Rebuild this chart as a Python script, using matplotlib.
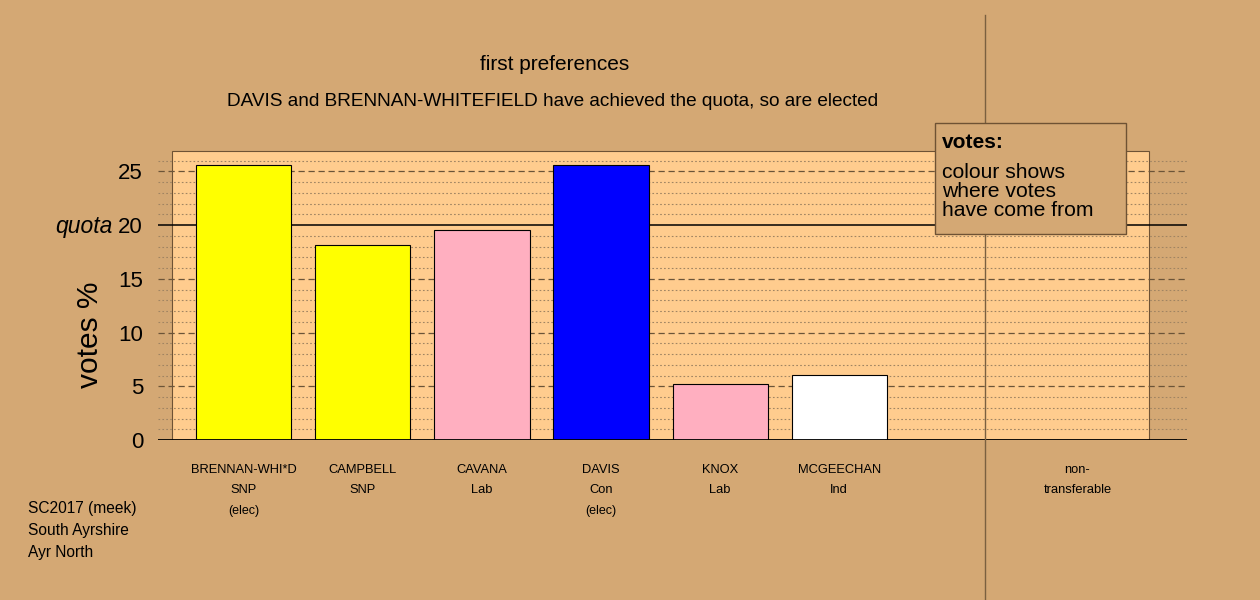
import numpy as np
import matplotlib
matplotlib.use('Agg')
from matplotlib import pyplot as plt
from matplotlib.patches import Rectangle

plt.rcParams['font.family'] = ['Liberation Sans', 'DejaVu Sans']

# first preference shares, % of valid vote
names = ['BRENNAN-WHI*D', 'CAMPBELL', 'CAVANA', 'DAVIS', 'KNOX', 'MCGEECHAN', '', 'non-']
parties = ['SNP', 'SNP', 'Lab', 'Con', 'Lab', 'Ind', '', 'transferable']
status = ['(elec)', '', '', '(elec)', '', '', '', '']
votes = [25.56, 18.11, 19.51, 25.59, 5.18, 6.08, np.nan, 0.0]
colours = ['#ffff00', '#ffff00', '#ffafc0', '#0000ff', '#ffafc0', '#ffffff', 'none', '#ffffff']
quota = 20

bg = '#d4a874'
panel = '#ffcc8e'

fig = plt.figure(figsize=(12.6, 6), dpi=100, facecolor=bg)
ax = fig.add_axes([158/1260, 160/600, 1029/1260, 290.1/600])
ax.set_facecolor(bg)
for s in ax.spines.values():
    s.set_visible(False)

ax.set_xlim(-0.72, 7.92)
ax.set_ylim(0, 27)

ax.add_patch(Rectangle((-0.6, 0), 8.2, 26.87, facecolor=panel, edgecolor='#6e5234', lw=0.8, zorder=0))

# grid: dotted every 1, dashed every 5, solid at quota and zero
for v in range(1, 27):
    if v == quota:
        ax.axhline(v, color='black', lw=1.1, zorder=1)
    elif v % 5 == 0:
        ax.axhline(v, color='#6b5438', lw=0.9, ls=(0, (5, 3)), zorder=1)
    else:
        ax.axhline(v, color='#a08462', lw=0.8, ls=(0, (1.5, 2)), zorder=1)
ax.axhline(0, color='black', lw=1.3, zorder=3)

x = np.arange(len(names))
ax.bar(x, np.nan_to_num(votes), width=0.8, color=colours, edgecolor='black', lw=0.8, zorder=2)

ax.axvline(6.22, ymin=-0.55, ymax=1.465, color='#7a6040', lw=1.0, clip_on=False, zorder=4)

ax.set_yticks([0, 5, 10, 15, 20, 25])
ax.tick_params(axis='y', length=0, pad=10.8, labelsize=16)
ax.set_xticks([])

for i in range(len(names)):
    ax.text(x[i], -2.75, names[i], ha='center', va='center', fontsize=9.3)
    ax.text(x[i], -4.7, parties[i], ha='center', va='center', fontsize=9.3)
    ax.text(x[i], -6.6, status[i], ha='center', va='center', fontsize=9)

fig.text(90/1260, 1 - 335/600, 'votes %', ha='center', va='center', rotation=90, fontsize=21.5)
fig.text(113/1260, 1 - 226/600, 'quota', ha='right', va='center', fontsize=16.5, style='italic')

fig.text(555/1260, 1 - 64/600, 'first preferences', ha='center', va='center', fontsize=15)
fig.text(553/1260, 1 - 101/600, 'DAVIS and BRENNAN-WHITEFIELD have achieved the quota, so are elected',
         ha='center', va='center', fontsize=13.7)

for j, t in enumerate(['SC2017 (meek)', 'South Ayrshire', 'Ayr North']):
    fig.text(28/1260, 1 - (509 + 22*j)/600, t, ha='left', va='center', fontsize=11.2)

# legend box
fig.add_artist(Rectangle((935/1260, 1 - 234/600), 191/1260, 111/600, transform=fig.transFigure,
                         facecolor=bg, edgecolor='#6e5234', lw=1.0, zorder=5))
fig.text(942/1260, 1 - 142/600, 'votes:', ha='left', va='center', fontsize=15, weight='bold', zorder=6)
for j, t in enumerate(['colour shows', 'where votes', 'have come from']):
    fig.text(942/1260, 1 - (172 + 19.5*j)/600, t, ha='left', va='center', fontsize=15.2, zorder=6)

fig.savefig('out.png', dpi=100, facecolor=bg)
